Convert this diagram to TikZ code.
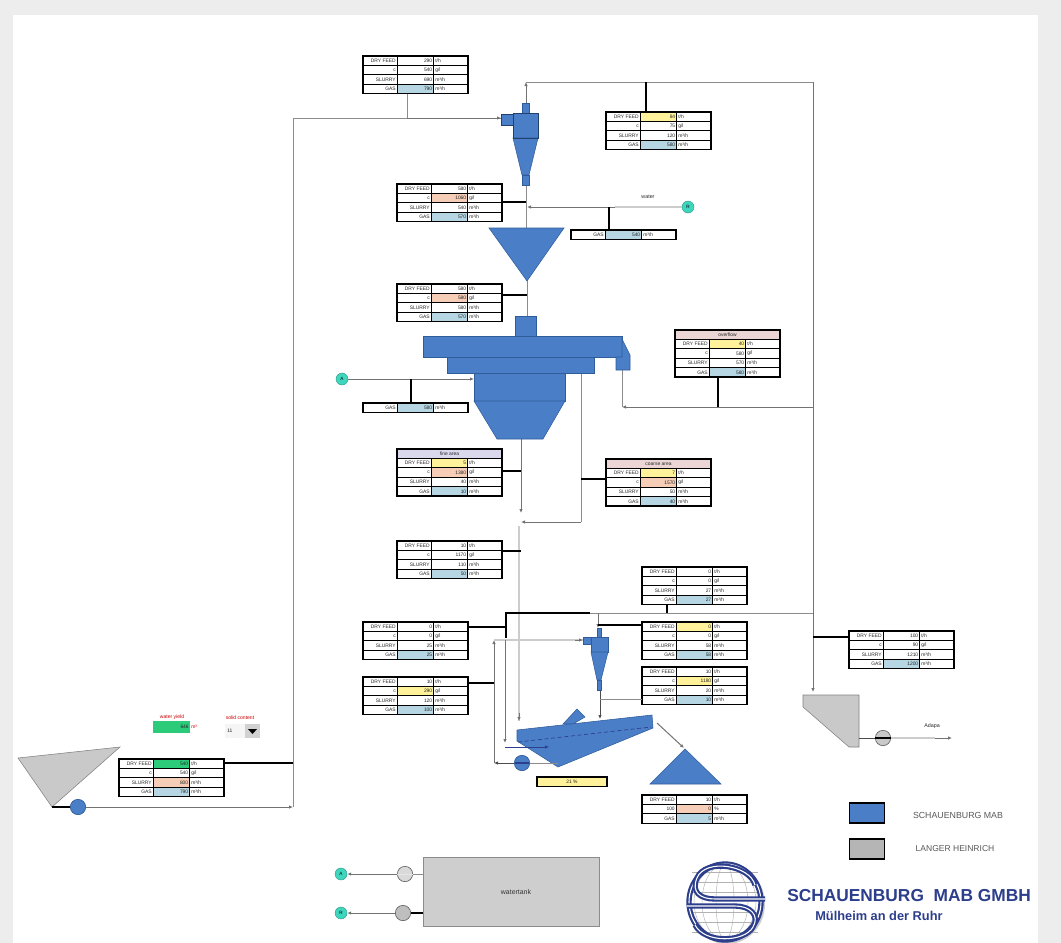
\documentclass[tikz,border=0pt]{standalone}
\usepackage{fontspec}
\setmainfont{Liberation Sans}
\usetikzlibrary{arrows.meta,calc}
\definecolor{mabblue}{HTML}{4A7EC7}
\definecolor{mabedge}{HTML}{2F5C9A}
\definecolor{lhgray}{HTML}{C9C9C9}
\definecolor{cY}{HTML}{FFF29A}
\definecolor{cO}{HTML}{F6CDB6}
\definecolor{cB}{HTML}{B5D6E2}
\definecolor{cG}{HTML}{2CCB7A}
\definecolor{cW}{HTML}{FFFFFF}
\definecolor{teal1}{HTML}{3FD6BE}
\definecolor{navy1}{HTML}{2C3E8C}
\definecolor{hdrP}{HTML}{EBD5D5}
\definecolor{hdrV}{HTML}{DAD8EC}
\tikzset{
  tline/.style={draw=black,line width=0.95pt},
  tbox/.style={tline,anchor=north west,inner sep=0pt,outer sep=0pt},
  ttext/.style={inner sep=0pt,font=\fontsize{3.7}{4}\selectfont,text=black!85},
  pipe/.style={draw=black!45,line width=0.75pt},
  lightpipe/.style={draw=black!20,line width=1.4pt},
  tap/.style={draw=black,line width=0.95pt},
  fat/.style={draw=black,line width=2pt},
  tip/.style={-{Latex[length=3pt,width=2.6pt]},draw=black!55},
  mab/.style={fill=mabblue,draw=mabedge,line width=0.4pt},
  lh/.style={fill=lhgray,draw=black!50,line width=0.4pt},
  wpoint/.style={circle,fill=teal1,draw=teal1!70!black,line width=0.3pt,minimum size=9pt,inner sep=0pt,
     font=\fontsize{3.5}{4}\selectfont},
  pumpb/.style={circle,fill=mabblue,draw=mabedge,line width=0.5pt,minimum size=11.5pt,inner sep=0pt},
  pumpg/.style={circle,fill=lhgray,draw=black!60,line width=0.5pt,minimum size=11.5pt,inner sep=0pt},
}
% table helpers: coordinates are reference pixels
\newcommand\tabbox[4]{\def\tn{#1}\def\tx{#2}\def\ty{#3}%
  \node[tbox,minimum width=78.75pt,minimum height=#4*7.05pt] (#1) at (#2,#3) {};}
\newcommand\srow[5]{% row index, label, colour, value, unit
  \pgfmathsetmacro\ya{\ty+#1*9.4}\pgfmathsetmacro\yb{\ya+9.4}\pgfmathsetmacro\ym{\ya+4.7}%
  \draw[tline] (\tx,\ya) rectangle (\tx+34.5,\yb);
  \draw[tline,fill=#3] (\tx+34.5,\ya) rectangle (\tx+70.5,\yb);
  \draw[tline] (\tx+70.5,\ya) rectangle (\tx+105,\yb);
  \node[ttext,anchor=east] (\tn-#1-l) at (\tx+33,\ym) {#2};
  \node[ttext,anchor=east] (\tn-#1-v) at (\tx+69.5,\ym) {#4};
  \node[ttext,anchor=west] (\tn-#1-u) at (\tx+72,\ym) {#5};}
\newcommand\shead[2]{% title, colour
  \draw[tline,fill=#2] (\tx,\ty) rectangle (\tx+105,\ty+9.4);
  \node[ttext] (\tn-title) at (\tx+52.5,\ty+4.7) {#1};}
\newcommand\ffour[9]{% name,x,y,c1,v1,c2,v2,c3,v3 ; then gas via \gasrow
  \tabbox{#1}{#2}{#3}{4}
  \srow{0}{DRY FEED}{#4}{#5}{t/h}
  \srow{1}{c}{#6}{#7}{g/l}
  \srow{2}{SLURRY}{#8}{#9}{m³/h}}
\newcommand\gasrow[2]{\srow{3}{GAS}{cB}{#1}{#2}}
\newcommand\titled[9]{% name,x,y,title,hcol,c1,v1,c2,v2
  \tabbox{#1}{#2}{#3}{5}\shead{#4}{#5}
  \srow{1}{DRY FEED}{#6}{#7}{t/h}
  \srow{2}{c}{#8}{#9}{g/l}}
\begin{document}
\begin{tikzpicture}[x=0.75pt,y=-0.75pt]
\useasboundingbox (0,0) rectangle (1061,943);
\fill[black!7] (0,0) rectangle (1061,943);
\fill[white] (13,15) rectangle (1038,943);

%% named junctions
\coordinate (a1) at (293,118); \coordinate (a2) at (293,807); \coordinate (feedtap) at (293,763);
\coordinate (cyc1in) at (501,118); \coordinate (t1j) at (407,118);
\coordinate (ofa) at (526,103); \coordinate (ofb) at (526,82); \coordinate (ofc) at (813,82); \coordinate (ofd) at (813,692);
\coordinate (t2j) at (646,82);
\coordinate (ufa) at (526,185); \coordinate (ufb) at (526,228); \coordinate (t3j) at (526,202);
\coordinate (wj) at (527,207); \coordinate (t4j) at (609,207);
\coordinate (cona) at (527,281); \coordinate (conb) at (527,316); \coordinate (t5j) at (527,295);
\coordinate (hl) at (474,379); \coordinate (t6j) at (411,379);
\coordinate (lda) at (622,370); \coordinate (ldb) at (622,407); \coordinate (ldc) at (813,407); \coordinate (t7j) at (718,407);
\coordinate (fa) at (521,439); \coordinate (fb) at (521,513); \coordinate (t8j) at (521,471);
\coordinate (ca) at (581,373); \coordinate (cb) at (581,522); \coordinate (cc) at (521,522); \coordinate (t9j) at (581,479);
\coordinate (t10j) at (521,551); \coordinate (sa) at (519,526); \coordinate (sb) at (519,721);
\coordinate (ba) at (506,638); \coordinate (bb) at (506,613); \coordinate (bc) at (590,613); \coordinate (bd) at (813,613);
\coordinate (t12j) at (506,627); \coordinate (t11j) at (667,613);
\coordinate (ma) at (598,613); \coordinate (mb) at (598,628); \coordinate (t13j) at (598,625);
\coordinate (ina) at (494,640); \coordinate (inb) at (583,640); \coordinate (inc) at (494,763); \coordinate (t14j) at (494,683);
\coordinate (ua) at (505,640); \coordinate (ub) at (505,747); \coordinate (uc) at (549,747);
\coordinate (mua) at (600,690); \coordinate (mub) at (600,719); \coordinate (t15j) at (600,699);
\coordinate (scrh) at (558,763); \coordinate (scro) at (657,723); \coordinate (tri) at (684,748);
\coordinate (t18j) at (813,637);
\coordinate (lhout) at (52,807); \coordinate (thk) at (859,738); \coordinate (adp) at (952,738);
\coordinate (tkA) at (423,874); \coordinate (tkB) at (423,913);

%% pipes
\draw[pipe] (a2) -- (a1) -- (cyc1in);
\draw[pipe,tip] (t1j) -- (cyc1in);
\draw[pipe] (ofc) -- (ofb);
\draw[pipe,tip] (ofa) -- (ofb);
\draw[pipe,tip] (ofc) -- (ofd);
\draw[pipe] (ufa) -- (ufb);
\draw[pipe] (cona) -- (conb);
\draw[pipe,tip] (ldc) -- (ldb);
\draw[pipe] (ldb) -- (lda);
\draw[pipe,tip] (fa) -- (fb);
\draw[pipe] (ca) -- (cb);
\draw[pipe,tip] (cb) -- (cc);
\draw[lightpipe] (sa) -- (sb);
\draw[pipe,tip] ($(sb)+(0,-8)$) -- (sb);
\draw[pipe] (bc) -- (bd);
\draw[pipe,tip] (ma) -- (mb);
\draw[lightpipe] (ina) -- (inb);
\draw[pipe,tip] ($(inb)+(-8,0)$) -- (inb);
\draw[pipe,tip] (inc) -- (ina);
\draw[pipe,tip] (ua) -- ($(ub)+(0,-4)$);
\draw[pipe] (ub) -- (uc);
\draw[pipe,tip,draw=black!70] (mua) -- (mub);
\draw[pipe,tip] (scro) -- (tri);

%% cyclone 1
\fill[mab] (501,114) rectangle (513,125);
\fill[mab] (522,103) rectangle (529,113);
\fill[mab] (513,113) rectangle (538,138);
\fill[mab] (513,138) -- (538,138) -- (529,175) -- (522,175) -- cycle;
\fill[mab] (522,175) rectangle (529,185);
\draw[mabedge!70!black,line width=0.5pt] (513,138) -- (538,138) (513,113) rectangle (538,138) (501,114) rectangle (513,125);
%% distributor
\fill[mab] (489,228) -- (564,228) -- (527,281) -- cycle;
%% hydrosizer
\fill[mab] (515,316) rectangle (536,337);
\fill[mab] (423,336) rectangle (622,357);
\fill[mab] (447,357) rectangle (594,373);
\fill[mab] (474,373) rectangle (565,401);
\fill[mab] (474,401) -- (565,401) -- (543,439) -- (497,439) -- cycle;
\fill[mab] (622,339) -- (630,355) -- (630,370) -- (616,370) -- (616,357) -- (622,357) -- cycle;

%% sampling cyclone
\fill[mab] (583,637) rectangle (591,644);
\fill[mab] (597,628) rectangle (601,637);
\fill[mab] (591,637) rectangle (608,652);
\fill[mab] (591,652) -- (608,652) -- (601,680) -- (597,680) -- cycle;
\fill[mab] (597,680) rectangle (601,690);
%% screen
\fill[mab] (563,724) -- (577,709) -- (585,717) -- (573,724) -- cycle;
\fill[mab] (517,730) -- (652,715) -- (653,728) -- (558,767) -- (517,741) -- cycle;
\draw[navy1,line width=0.5pt,densely dashed] (518,742) -- (651,727);
\draw[navy1,line width=0.5pt,-{Latex[length=3pt,width=2.6pt]}] (505,747) -- (549,747);
\node[pumpb] (scrpump) at (522,763) {};
\draw[navy1,line width=1pt] (515,763) -- (529,763);
\draw[pipe] (scrh) -- (scrpump);
\draw[pipe,tip,draw=black!70] (scrpump) -- (inc);
%% product pile
\fill[mab] (685,749) -- (650,784) -- (721,784) -- cycle;

%% Langer Heinrich side
\fill[lh] (18,758) -- (120,747) -- (52,807) -- cycle;
\node[pumpb] (feedpump) at (78,807) {};
\draw[black,line width=0.9pt] (lhout) -- (feedpump);
\draw[pipe,tip] (feedpump) -- (a2);
\fill[lh] (803,695) -- (859,695) -- (859,747) -- (849,747) -- (803,707) -- cycle;
\node[pumpg] (adppump) at (883,738) {};
\draw[black!70,line width=0.6pt] (thk) -- (adppump.center);
\draw[black,line width=0.8pt] (875,738) -- (891,738);
\draw[lightpipe] (891,738) -- (935,738);
\draw[pipe,tip] (935,738) -- (adp);
\node[ttext,font=\fontsize{4}{5}\selectfont] (adplab) at (932,726) {Adapa};

%% water
\node[wpoint] (wpR) at (688,207) {R};
\draw[lightpipe] (wpR) -- (615,207);
\draw[pipe,tip] (615,207) -- (wj);
\node[ttext,font=\fontsize{4}{5}\selectfont] (wlab) at (648,197) {water};
\node[wpoint] (wpL) at (342,379) {A};
\draw[pipe,tip] (wpL) -- (hl);

%% tables
\ffour{T1}{363}{56}{cW}{290}{cW}{540}{cW}{690}\gasrow{790}{m³/h}
\ffour{T2}{606}{112}{cY}{84}{cW}{75}{cW}{120}\gasrow{580}{m³/h}
\ffour{T3}{397}{184}{cW}{580}{cO}{1060}{cW}{540}\gasrow{570}{m³/h}
\tabbox{T4}{571}{230}{1}\srow{0}{GAS}{cB}{540}{m³/h}
\ffour{T5}{397}{284}{cW}{580}{cO}{580}{cW}{580}\gasrow{570}{m³/h}
\tabbox{T6}{363}{403}{1}\srow{0}{GAS}{cB}{580}{m³/h}
\titled{T7}{675}{330}{overflow}{hdrP}{cY}{40}{cW}{580}\srow{3}{SLURRY}{cW}{570}{m³/h}\srow{4}{GAS}{cB}{580}{m³/h}
\titled{T8}{397}{449}{fine area}{hdrV}{cY}{5}{cO}{1380}\srow{3}{SLURRY}{cW}{40}{m³/h}\srow{4}{GAS}{cB}{10}{m³/h}
\titled{T9}{606}{459}{coarse area}{hdrP}{cY}{7}{cO}{1570}\srow{3}{SLURRY}{cW}{50}{m³/h}\srow{4}{GAS}{cB}{40}{m³/h}
\ffour{T10}{397}{541}{cW}{10}{cW}{1170}{cW}{110}\gasrow{50}{m³/h}
\ffour{T11}{642}{567}{cW}{0}{cW}{0}{cW}{27}\gasrow{27}{m³/h}
\ffour{T12}{363}{622}{cW}{0}{cW}{0}{cW}{25}\gasrow{25}{m³/h}
\ffour{T13}{642}{622}{cY}{0}{cW}{0}{cW}{58}\gasrow{58}{m³/h}
\ffour{T14}{363}{677}{cW}{10}{cY}{290}{cW}{120}\gasrow{100}{m³/h}
\ffour{T15}{642}{667}{cW}{10}{cY}{1180}{cW}{20}\gasrow{10}{m³/h}
\tabbox{T16}{642}{795}{3}
\srow{0}{DRY FEED}{cW}{10}{t/h}\srow{1}{100}{cO}{0}{\%}\srow{2}{GAS}{cB}{5}{m³/h}
\node[tbox,fill=cY,minimum width=52.5pt,minimum height=7pt] (T17) at (537,777) {};
\node[ttext] (T17v) at (572,781.5) {21 \%};
\ffour{T18}{849}{631}{cW}{100}{cW}{90}{cW}{1210}\gasrow{1200}{m³/h}
\ffour{T19}{119}{759}{cG}{540}{cW}{540}{cO}{800}\gasrow{790}{m³/h}

%% black taps from tables to pipes
\draw[pipe] (T1.south -| t1j) -- (t1j);
\draw[tap] (T2.north -| t2j) -- (t2j);
\draw[tap] (T3.east |- t3j) -- (t3j);
\draw[tap] (T4.north -| t4j) -- (t4j);
\draw[fat] (T5.east |- t5j) -- (t5j);
\draw[tap] (T6.north -| t6j) -- (t6j);
\draw[tap] (T7.south -| t7j) -- (t7j);
\draw[tap] (T8.east |- t8j) -- (t8j);
\draw[tap] (T9.west |- t9j) -- (t9j);
\draw[tap] (T10.east |- t10j) -- (t10j);
\draw[tap] (T11.south -| t11j) -- (t11j);
\draw[tap] (ba) -- (bb) -- (bc);
\draw[tap] (T12.east |- t12j) -- (t12j);
\draw[tap] (T13.west |- t13j) -- (t13j);
\draw[tap] (T14.east |- t14j) -- (t14j);
\draw[pipe] (T15.west |- t15j) -- (t15j);
\draw[tap] (T18.west |- t18j) -- (t18j);
\draw[tap] (T19.east |- feedtap) -- (feedtap);

%% red controls
\node[ttext,text=red!80!black,font=\fontsize{3.8}{4}\selectfont] (lab1) at (172,717) {water yield};
\node[ttext,text=red!80!black,font=\fontsize{3.8}{4}\selectfont] (lab2) at (240,718) {solid content};
\node[fill=cG,inner sep=0pt,minimum width=27.75pt,minimum height=9pt] (gbox) at (171.5,727) {};
\node[ttext,anchor=east] (gval) at (189,727) {646};
\node[ttext,anchor=west,text=red!80!black] (gunit) at (191,727) {m³};
\node[fill=black!4,inner sep=0pt,minimum width=26.25pt,minimum height=10.5pt] (dd) at (242.5,731) {};
\node[ttext,anchor=west] (ddv) at (227,731) {11};
\fill[black!18] (245,724) rectangle (260,738);
\fill[black] (248,729) -- (257,729) -- (252.5,734) -- cycle;

%% legend
\node[fill=mabblue,draw=black,line width=0.9pt,inner sep=0pt,minimum width=26.5pt,minimum height=15pt] (legA) at (867,813) {};
\node[fill=lhgray!90!black,draw=black,line width=0.9pt,inner sep=0pt,minimum width=26.5pt,minimum height=15pt] (legB) at (867,849) {};
\node[inner sep=0pt,text=black!65,font=\fontsize{6.6}{7}\selectfont] (legAt) at (958,815) {SCHAUENBURG MAB};
\node[inner sep=0pt,text=black!65,font=\fontsize{6.4}{7}\selectfont] (legBt) at (955,849) {LANGER HEINRICH};

%% water tank
\node[fill=lhgray!90!white,draw=black!45,line width=0.5pt,inner sep=0pt,minimum width=132pt,minimum height=52pt] (tank) at (511,892) {};
\node[inner sep=0pt,text=black!80,font=\fontsize{5.2}{6}\selectfont] (tanklab) at (516,892) {watertank};
\node[pumpg,fill=black!15] (p1) at (405,874) {};
\node[pumpg,fill=black!25] (p2) at (403,913) {};
\draw[black!10,line width=0.6pt] (p1.west) -- (p1.east);
\draw[black,line width=0.9pt] (p2.east) -- (tkB);
\draw[pipe] (p1.east) -- (tkA);
\node[wpoint] (wA) at (341,874) {A};
\node[wpoint] (wB) at (341,913) {R};
\draw[pipe,tip,draw=black!55] (p1) -- (wA);
\draw[pipe,tip,draw=black!55] (p2) -- (wB);

%% logo
\begin{scope}
\clip (680,850) rectangle (780,943);
\fill[black!20] (727,904) ellipse (38 and 40);
\fill[white] (725,902) ellipse (38 and 40);
\foreach \r in {10,24,32} {\draw[black!30,line width=0.35pt] (725,902) ellipse (\r-1 and 38);}
\foreach \dy in {-30,-20,-10,10,20,30} {\draw[black!30,line width=0.35pt] (692,902+\dy) -- (758,902+\dy);}
\draw[navy1,line width=1.6pt,double=white,double distance=0.8pt] (725,902) ellipse (36 and 38);
\draw[navy1,line width=1.6pt,double=white,double distance=0.8pt]
  (755,885) .. controls (750,865) and (705,858) .. (697,878) .. controls (691,892) and (700,899) .. (715,899)
  -- (765,899);
\draw[navy1,line width=1.6pt,double=white,double distance=0.8pt]
  (687,906) -- (735,906) .. controls (750,906) and (760,915) .. (753,927) .. controls (745,942) and (705,944) .. (695,925);
\end{scope}
\node[inner sep=0pt,anchor=west,text=navy1,font=\bfseries\fontsize{13}{14}\selectfont] (co1) at (787,896) {SCHAUENBURG\ \ MAB GMBH};
\node[inner sep=0pt,anchor=west,text=navy1,font=\bfseries\fontsize{9.6}{11}\selectfont] (co2) at (815,916) {Mülheim an der Ruhr};
\end{tikzpicture}
\end{document}
